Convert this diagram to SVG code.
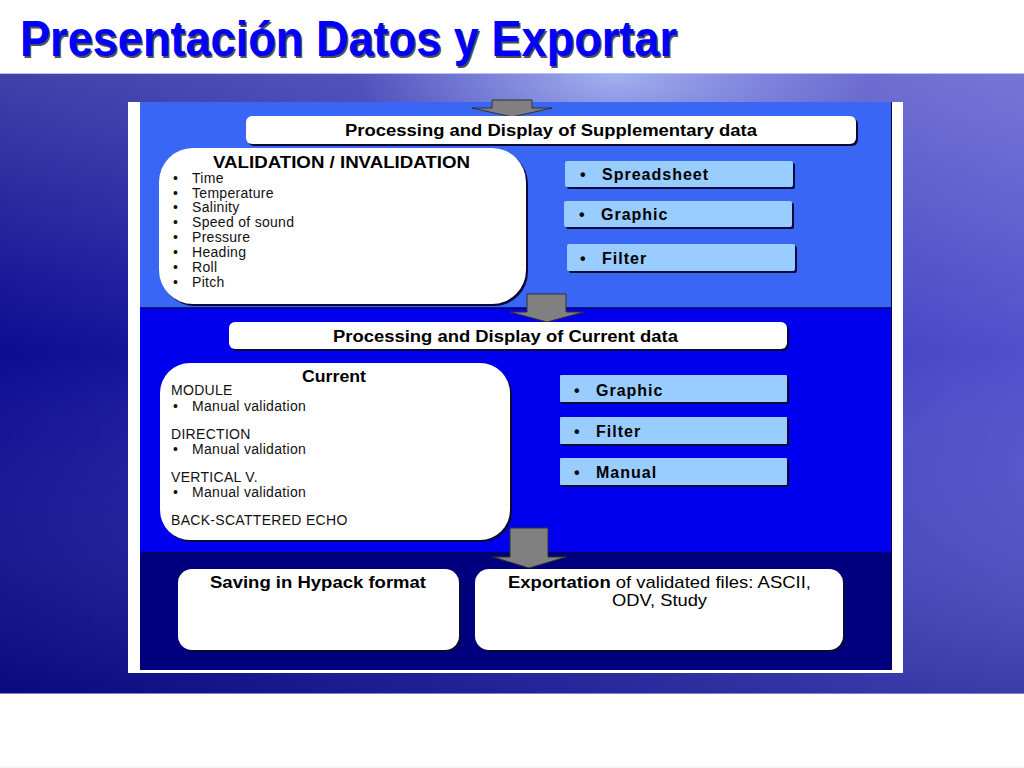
<svg xmlns="http://www.w3.org/2000/svg" width="1024" height="768" viewBox="0 0 1024 768">
<defs>
<linearGradient id="bgH" x1="0" y1="0" x2="1" y2="0">
<stop offset="0" stop-color="#0c0c92"/>
<stop offset="0.45" stop-color="#2a2ab0"/>
<stop offset="1" stop-color="#5050cc"/>
</linearGradient>
<linearGradient id="bgV" x1="0" y1="0" x2="0" y2="1">
<stop offset="0" stop-color="#ffffff" stop-opacity="0.22"/>
<stop offset="0.45" stop-color="#ffffff" stop-opacity="0"/>
<stop offset="1" stop-color="#000040" stop-opacity="0.25"/>
</linearGradient>
<radialGradient id="glow" cx="0.6" cy="0" r="0.5" gradientTransform="translate(0.3,0) scale(0.5,1)">
<stop offset="0" stop-color="#c0d4ff" stop-opacity="0.7"/>
<stop offset="0.6" stop-color="#b0c4ff" stop-opacity="0.3"/>
<stop offset="1" stop-color="#b0c4ff" stop-opacity="0"/>
</radialGradient>
<style>
.ttl{font-family:"Liberation Sans",Arial,sans-serif;font-weight:bold;font-size:50px}
.hdr{font-family:"Liberation Sans",Arial,sans-serif;font-weight:bold;font-size:16px;fill:#000}
.itm{font-family:"Liberation Sans",Arial,sans-serif;font-size:14px;letter-spacing:0.3px;fill:#111}
.btn{font-family:"Liberation Sans",Arial,sans-serif;font-weight:bold;font-size:16px;letter-spacing:1px;fill:#000}
.wbox{fill:#fff}
.shd{fill:#0a0a3a}
.lbox{fill:#99ccff}
.arrow{fill:#808080;stroke:#303030;stroke-width:1}
</style>
</defs>
<rect x="0" y="0" width="1024" height="768" fill="#fff"/>
<!-- background band -->
<rect x="0" y="73" width="1024" height="621" fill="url(#bgH)"/>
<rect x="0" y="73" width="1024" height="621" fill="url(#bgV)"/>
<rect x="0" y="73" width="1024" height="240" fill="url(#glow)"/>
<line x1="0" y1="73.5" x2="1024" y2="73.5" stroke="#b8c4ee" stroke-width="1"/>
<line x1="0" y1="693.5" x2="1024" y2="693.5" stroke="#8080d0" stroke-width="1"/>
<line x1="0" y1="767" x2="1024" y2="767" stroke="#ececec" stroke-width="1"/>
<!-- title -->
<text class="ttl" x="21.5" y="57.5" fill="#505050" textLength="657" lengthAdjust="spacingAndGlyphs">Presentación Datos y Exportar</text>
<text class="ttl" x="20" y="56" fill="#0000ff" textLength="657" lengthAdjust="spacingAndGlyphs">Presentación Datos y Exportar</text>
<!-- panel -->
<rect x="128" y="102" width="775" height="571" fill="#fff"/>
<rect x="140" y="102" width="752" height="206" fill="#3a66f5"/>
<rect x="140" y="308" width="752" height="245" fill="#0000ee"/>
<rect x="140" y="553" width="752" height="117" fill="#00007e"/>
<line x1="140" y1="308" x2="892" y2="308" stroke="#000060" stroke-width="1.5"/>
<line x1="140" y1="553" x2="892" y2="553" stroke="#000050" stroke-width="1.5"/>
<line x1="891.5" y1="102" x2="891.5" y2="670" stroke="#000040" stroke-width="1"/>
<!-- connectors -->
<g id="connectors">
<path class="arrow" d="M492,100 L532,100 L532,108 L552,108 L512,117 L472,108 L492,108 Z"/>
<path class="arrow" d="M527,294 L566,294 L566,312 L584,312 L547,322 L510,312 L527,312 Z"/>
<path class="arrow" d="M510,528 L548,528 L548,557 L566,557 L529,568 L493,557 L510,557 Z"/>
</g>
<!-- nodes -->
<g id="supp-header">
<rect class="shd" x="248" y="118" width="610" height="28" rx="6"/>
<rect class="wbox" x="246" y="116" width="610" height="28" rx="6"/>
<text class="hdr" x="345" y="136" textLength="412" lengthAdjust="spacingAndGlyphs">Processing and Display of Supplementary data</text>
</g>
<g id="validation">
<rect class="shd" x="161" y="150" width="367" height="156" rx="34"/>
<rect class="wbox" x="159" y="148" width="367" height="156" rx="34"/>
<text class="hdr" x="213" y="168" font-size="17" textLength="257" lengthAdjust="spacingAndGlyphs">VALIDATION / INVALIDATION</text>
<g class="itm">
<text x="173" y="183">•</text><text x="192" y="183">Time</text>
<text x="173" y="198">•</text><text x="192" y="198">Temperature</text>
<text x="173" y="212">•</text><text x="192" y="212">Salinity</text>
<text x="173" y="227">•</text><text x="192" y="227">Speed of sound</text>
<text x="173" y="242">•</text><text x="192" y="242">Pressure</text>
<text x="173" y="257">•</text><text x="192" y="257">Heading</text>
<text x="173" y="272">•</text><text x="192" y="272">Roll</text>
<text x="173" y="287">•</text><text x="192" y="287">Pitch</text>
</g>
</g>
<g id="spreadsheet">
<rect class="shd" x="567" y="163" width="228" height="26" rx="2"/>
<rect class="lbox" x="565" y="161" width="228" height="26" rx="2"/>
<text class="btn" x="580" y="180">•</text><text class="btn" x="602" y="180">Spreadsheet</text>
</g>
<g id="graphic-supp">
<rect class="shd" x="566" y="203" width="228" height="26" rx="2"/>
<rect class="lbox" x="564" y="201" width="228" height="26" rx="2"/>
<text class="btn" x="579" y="220">•</text><text class="btn" x="601" y="220">Graphic</text>
</g>
<g id="filter-supp">
<rect class="shd" x="569" y="246" width="228" height="27" rx="2"/>
<rect class="lbox" x="567" y="244" width="228" height="27" rx="2"/>
<text class="btn" x="580" y="264">•</text><text class="btn" x="602" y="264">Filter</text>
</g>
<g id="current-header">
<rect class="shd" x="231" y="324" width="558" height="27" rx="6"/>
<rect class="wbox" x="229" y="322" width="558" height="27" rx="6"/>
<text class="hdr" x="333" y="342" textLength="345" lengthAdjust="spacingAndGlyphs">Processing and Display of Current data</text>
</g>
<g id="current">
<rect class="shd" x="162" y="365" width="350" height="177" rx="30"/>
<rect class="wbox" x="160" y="363" width="350" height="177" rx="30"/>
<text class="hdr" x="302" y="382" textLength="64" lengthAdjust="spacingAndGlyphs">Current</text>
<g class="itm">
<text x="171" y="395">MODULE</text>
<text x="173" y="411">•</text><text x="192" y="411">Manual validation</text>
<text x="171" y="439">DIRECTION</text>
<text x="173" y="454">•</text><text x="192" y="454">Manual validation</text>
<text x="171" y="482">VERTICAL V.</text>
<text x="173" y="497">•</text><text x="192" y="497">Manual validation</text>
<text x="171" y="525">BACK-SCATTERED ECHO</text>
</g>
</g>
<g id="graphic-cur">
<rect class="shd" x="562" y="377" width="227" height="27" rx="1"/>
<rect class="lbox" x="560" y="375" width="227" height="27" rx="1"/>
<text class="btn" x="574" y="396">•</text><text class="btn" x="596" y="396">Graphic</text>
</g>
<g id="filter-cur">
<rect class="shd" x="562" y="419" width="227" height="27" rx="1"/>
<rect class="lbox" x="560" y="417" width="227" height="27" rx="1"/>
<text class="btn" x="574" y="437">•</text><text class="btn" x="596" y="437">Filter</text>
</g>
<g id="manual-cur">
<rect class="shd" x="562" y="460" width="227" height="27" rx="1"/>
<rect class="lbox" x="560" y="458" width="227" height="27" rx="1"/>
<text class="btn" x="574" y="478">•</text><text class="btn" x="596" y="478">Manual</text>
</g>
<g id="saving">
<rect class="shd" x="180" y="571" width="281" height="81" rx="14"/>
<rect class="wbox" x="178" y="569" width="281" height="81" rx="14"/>
<text x="210" y="588" font-family="Liberation Sans, Arial, sans-serif" font-weight="bold" font-size="17" textLength="216" lengthAdjust="spacingAndGlyphs">Saving in Hypack format</text>
</g>
<g id="exportation">
<rect class="shd" x="477" y="571" width="368" height="81" rx="14"/>
<rect class="wbox" x="475" y="569" width="368" height="81" rx="14"/>
<text x="508" y="588" font-family="Liberation Sans, Arial, sans-serif" font-size="17" textLength="303" lengthAdjust="spacingAndGlyphs"><tspan font-weight="bold">Exportation</tspan> of validated files: ASCII,</text>
<text x="612" y="606" font-family="Liberation Sans, Arial, sans-serif" font-size="17" textLength="95" lengthAdjust="spacingAndGlyphs">ODV, Study</text>
</g>
</svg>
